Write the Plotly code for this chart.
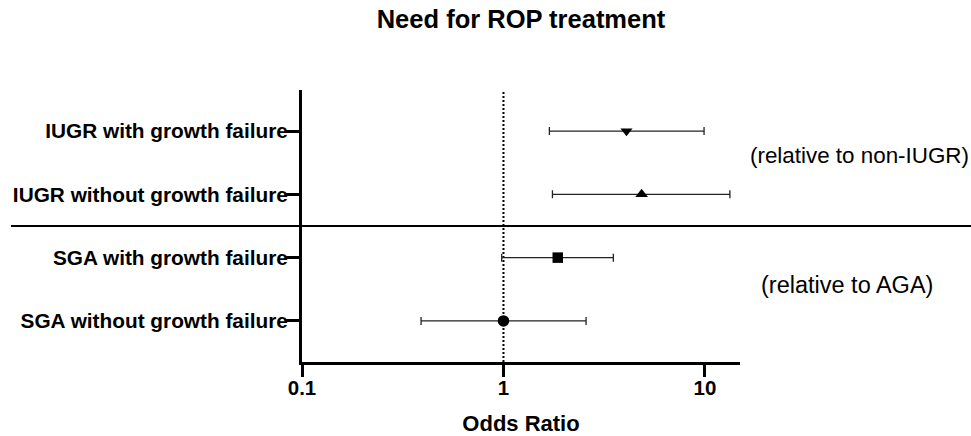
import plotly.graph_objects as go

categories = ["IUGR with growth failure", "IUGR without growth failure",
              "SGA with growth failure", "SGA without growth failure"]
odds_ratio = [4.08, 4.85, 1.86, 1.0]
ci_low = [1.69, 1.75, 0.98, 0.39]
ci_high = [9.9, 13.3, 3.51, 2.57]
symbols = ["triangle-down", "triangle-up", "square", "circle"]
x_ticks = [0.1, 1, 10]
x_tick_labels = ["0.1", "1", "10"]
group_notes = ["(relative to non-IUGR)", "(relative to AGA)"]

FONT = "Liberation Sans, Arial, sans-serif"
ypos = list(range(len(categories)))

W, H = 971, 436
L, T = 302, 90
R = W - 740
B = H - 362.5
pw = W - L - R
ph = H - T - B

fig = go.Figure()
fig.add_trace(go.Scatter(
    x=odds_ratio, y=ypos, mode="markers",
    marker=dict(symbol=symbols, size=[10.5, 11, 10.5, 11.5], color="black",
                opacity=1, line=dict(width=0)),
    error_x=dict(type="data", symmetric=False,
                 array=[h - o for h, o in zip(ci_high, odds_ratio)],
                 arrayminus=[o - l for o, l in zip(odds_ratio, ci_low)],
                 color="#222", thickness=1.3, width=4),
    showlegend=False, cliponaxis=False, hoverinfo="skip",
))

fig.update_layout(
    width=W, height=H,
    margin=dict(l=L, r=R, t=T, b=B, autoexpand=False),
    plot_bgcolor="white", paper_bgcolor="white",
    font=dict(family=FONT, color="black"),
    title=dict(text="<b>Need for ROP treatment</b>", x=0.5, xref="paper",
               xanchor="center", y=1 - 19.5 / H, yanchor="middle",
               font=dict(size=25.5, family=FONT, color="black")),
    xaxis=dict(type="log", range=[-1, 1.174], tickvals=x_ticks, ticktext=x_tick_labels,
               showline=True, linewidth=3, linecolor="black", mirror=False,
               ticks="outside", ticklen=12, tickwidth=3, tickcolor="black",
               ticklabelstandoff=-7,
               showgrid=False, zeroline=False, automargin=False,
               tickfont=dict(size=20.5, family=FONT, color="black", weight="bold"),
               title=dict(text="<b>Odds Ratio</b>", standoff=27,
                          font=dict(size=22, family=FONT, color="black"))),
    yaxis=dict(range=[3.65, -0.65], tickvals=ypos, ticktext=categories,
               showline=True, linewidth=3, linecolor="black",
               ticks="outside", ticklen=13, tickwidth=3, tickcolor="black",
               ticklabelstandoff=-6,
               showgrid=False, zeroline=False, automargin=False,
               tickfont=dict(size=20.8, family=FONT, color="black", weight="bold")),
)

# dotted reference line at OR = 1
fig.add_shape(type="line", xref="x", yref="paper", x0=1, x1=1, y0=0, y1=1,
              line=dict(color="black", width=2, dash="2px,2px"), layer="below")
# group separator
fig.add_shape(type="line", xref="paper", yref="y",
              x0=(11 - L) / pw, x1=(971 - L) / pw, y0=1.5, y1=1.5,
              line=dict(color="black", width=2))

for note, px, py, size in [(group_notes[0], 859.5, 156, 22.4),
                           (group_notes[1], 846.5, 285, 23.5)]:
    fig.add_annotation(text=note, xref="paper", yref="paper",
                       x=(px - L) / pw, y=(H - B - py) / ph,
                       xanchor="center", yanchor="middle", showarrow=False,
                       font=dict(size=size, family=FONT, color="black"))

fig.write_html(
    "out.html",
    config={"displayModeBar": False},
    post_script="document.body.style.margin='0';document.body.style.overflow='hidden';",
)
